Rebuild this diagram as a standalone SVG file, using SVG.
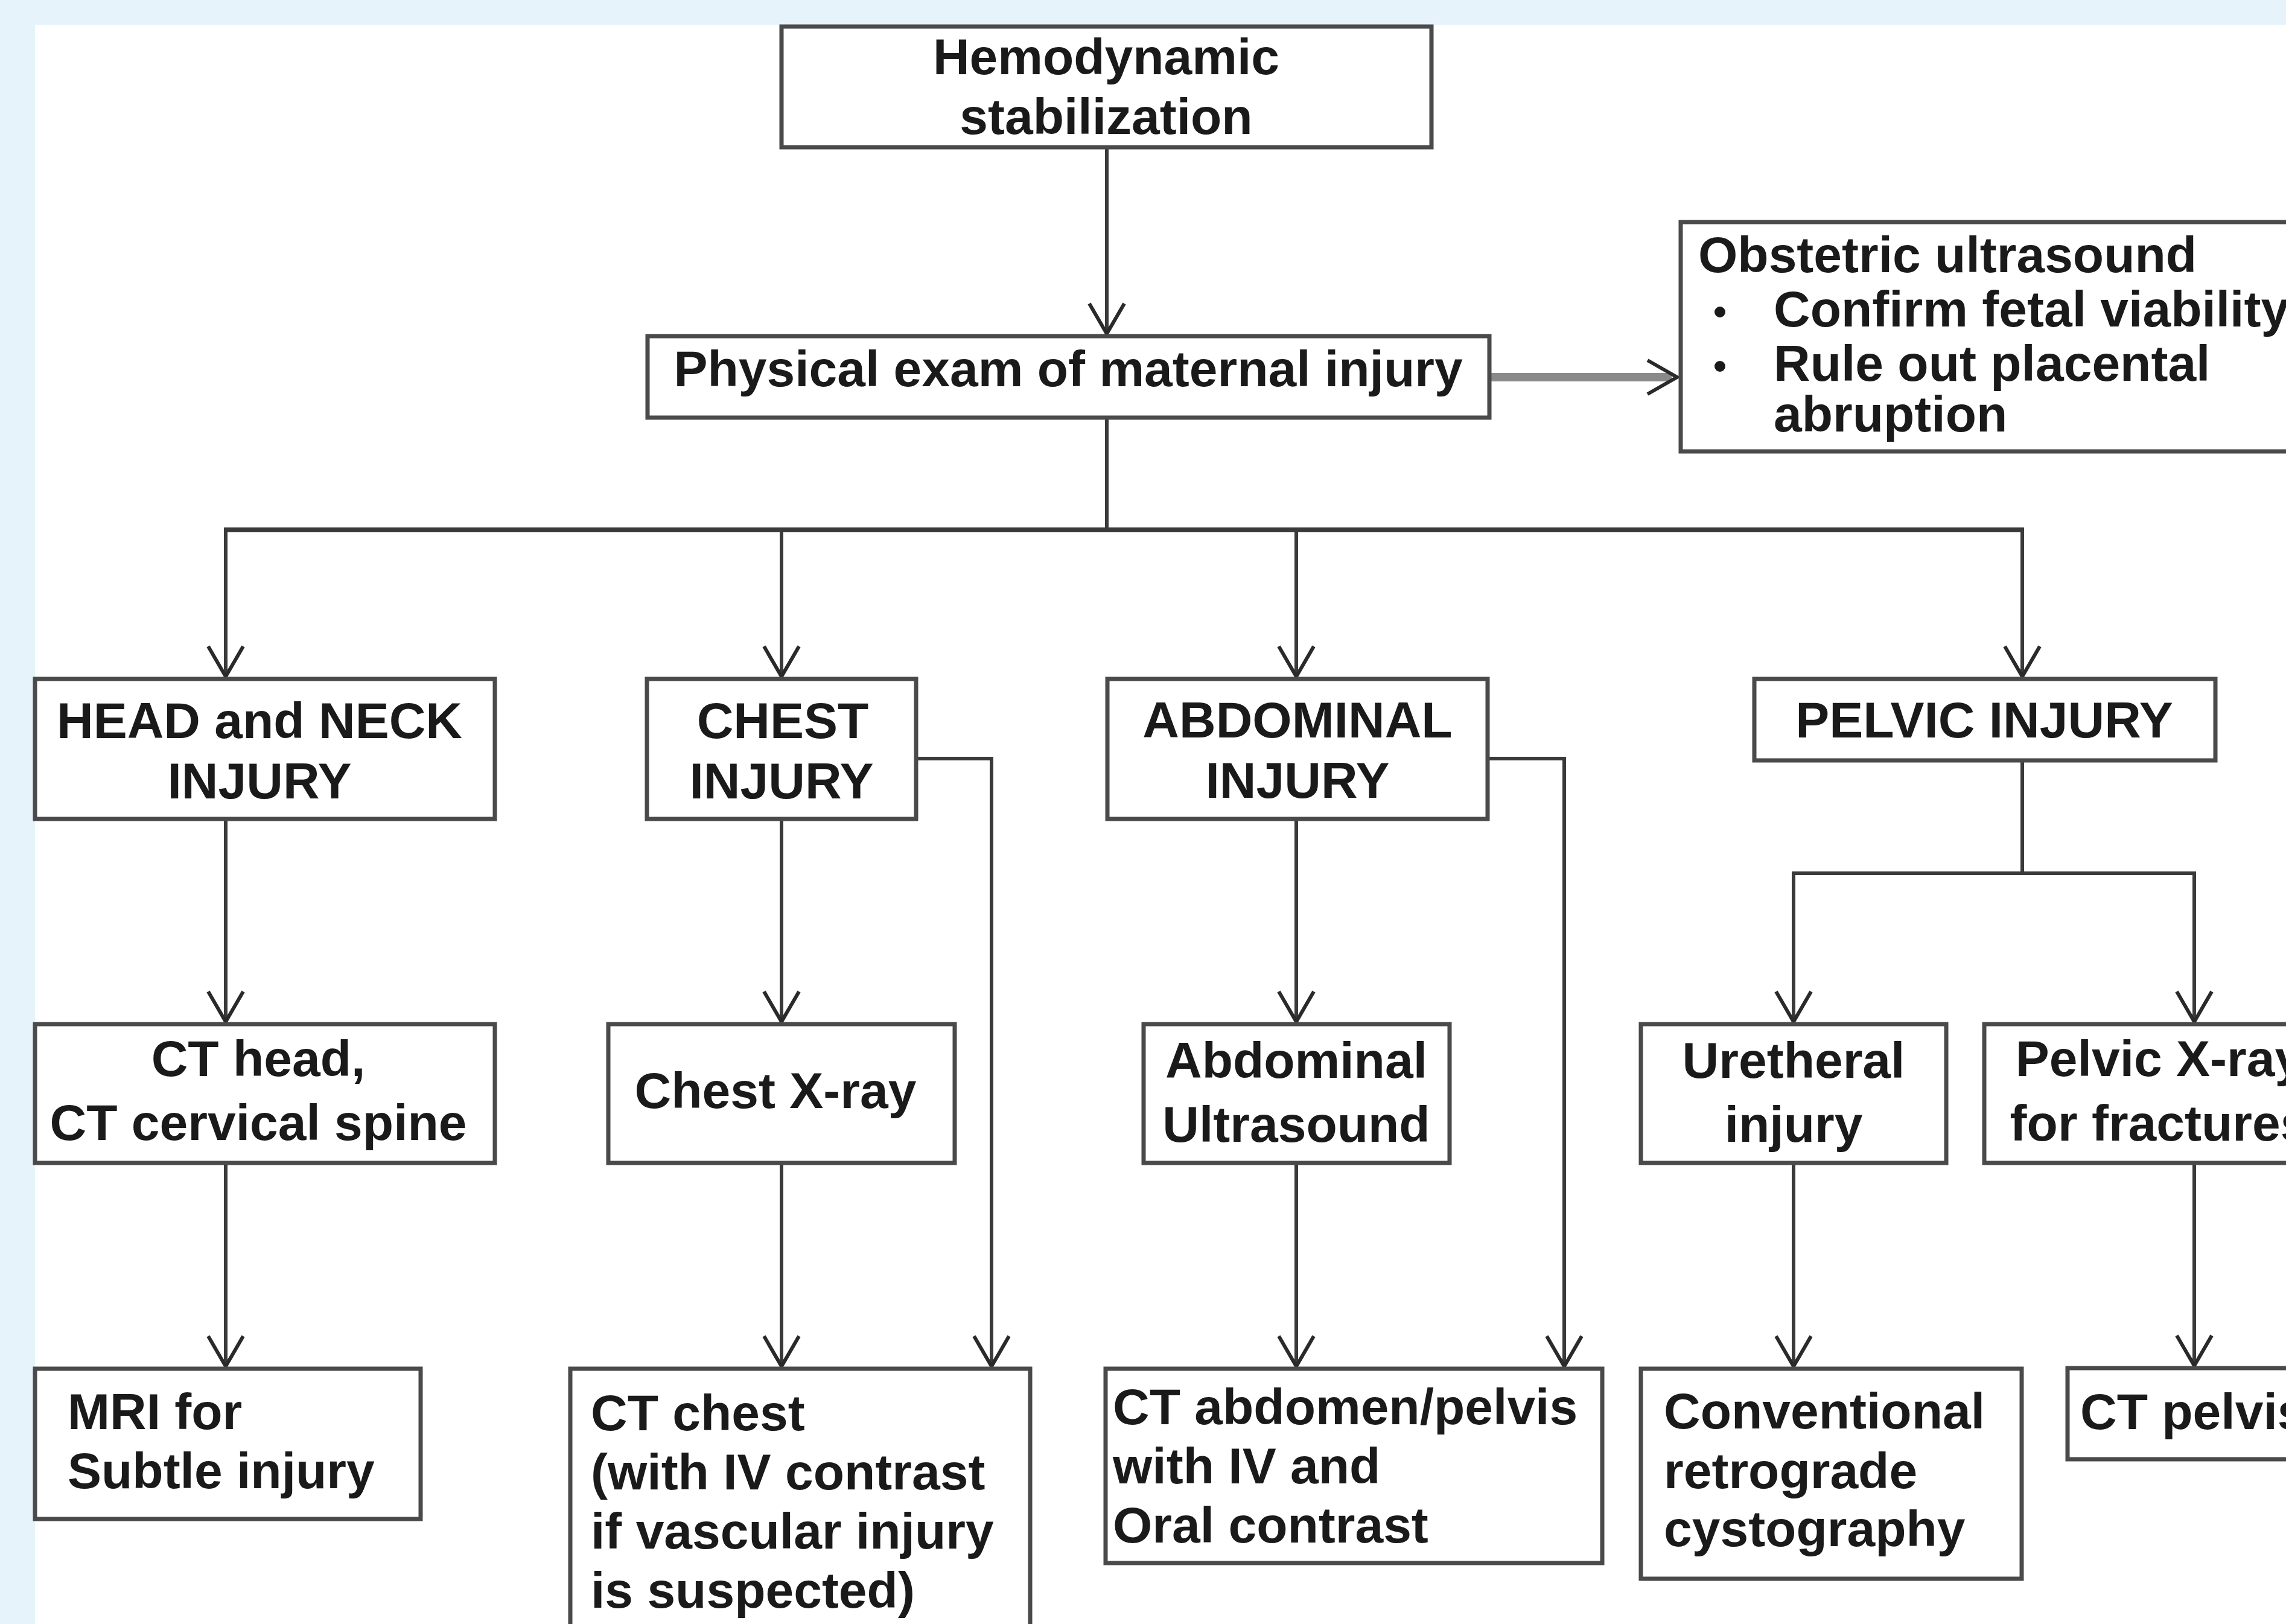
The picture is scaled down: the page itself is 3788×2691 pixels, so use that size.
<svg xmlns="http://www.w3.org/2000/svg" width="3788" height="2691" viewBox="0 0 3788 2691">
<style>
.box{fill:#ffffff;stroke:#4a4a4a;stroke-width:7}
.t{font-family:"Liberation Sans",Arial,sans-serif;font-weight:bold;font-size:84px;fill:#1a1a1a}
.c{text-anchor:middle}
.ln{fill:none;stroke:#3a3a3a;stroke-width:6}
</style>
<defs>
<marker id="ah" markerUnits="userSpaceOnUse" orient="auto" refX="0" refY="0" markerWidth="60" markerHeight="70" viewBox="-55 -35 60 70" overflow="visible">
<path d="M -50 -29 L 0 0 L -50 29" fill="none" stroke="#2a2a2a" stroke-width="6"/>
</marker>
</defs>
<rect x="0" y="0" width="3788" height="2691" fill="#e6f3fa"/>
<rect x="58" y="41" width="3730" height="2650" fill="#ffffff"/>

<g id="connectors">
<line class="ln" x1="1834" y1="244" x2="1834" y2="553" marker-end="url(#ah)"/>
<line x1="2468" y1="625" x2="2770" y2="625" stroke="#8a8a8a" stroke-width="14"/>
<path d="M 2730 597 L 2779 625 L 2730 653" fill="none" stroke="#2a2a2a" stroke-width="6"/>
<line class="ln" x1="1834" y1="692" x2="1834" y2="878"/>
<line class="ln" x1="371" y1="878" x2="3354" y2="878" style="stroke-width:8"/>
<line class="ln" x1="374" y1="878" x2="374" y2="1121" marker-end="url(#ah)"/>
<line class="ln" x1="1295" y1="878" x2="1295" y2="1121" marker-end="url(#ah)"/>
<line class="ln" x1="2148" y1="878" x2="2148" y2="1121" marker-end="url(#ah)"/>
<line class="ln" x1="3351" y1="878" x2="3351" y2="1121" marker-end="url(#ah)"/>
<line class="ln" x1="374" y1="1357" x2="374" y2="1693" marker-end="url(#ah)"/>
<line class="ln" x1="1295" y1="1357" x2="1295" y2="1693" marker-end="url(#ah)"/>
<polyline class="ln" points="1518,1257 1643,1257 1643,2264" marker-end="url(#ah)"/>
<line class="ln" x1="2148" y1="1357" x2="2148" y2="1693" marker-end="url(#ah)"/>
<polyline class="ln" points="2465,1257 2592,1257 2592,2264" marker-end="url(#ah)"/>
<line class="ln" x1="3351" y1="1260" x2="3351" y2="1447"/>
<line class="ln" x1="2969" y1="1447" x2="3639" y2="1447"/>
<line class="ln" x1="2972" y1="1447" x2="2972" y2="1693" marker-end="url(#ah)"/>
<line class="ln" x1="3636" y1="1447" x2="3636" y2="1693" marker-end="url(#ah)"/>
<line class="ln" x1="374" y1="1927" x2="374" y2="2264" marker-end="url(#ah)"/>
<line class="ln" x1="1295" y1="1927" x2="1295" y2="2264" marker-end="url(#ah)"/>
<line class="ln" x1="2148" y1="1927" x2="2148" y2="2264" marker-end="url(#ah)"/>
<line class="ln" x1="2972" y1="1927" x2="2972" y2="2264" marker-end="url(#ah)"/>
<line class="ln" x1="3636" y1="1927" x2="3636" y2="2263" marker-end="url(#ah)"/>
</g>

<g id="hemodynamic">
<rect class="box" x="1295" y="44" width="1077" height="200"/>
<text class="t c" x="1833" y="123">Hemodynamic</text>
<text class="t c" x="1833" y="222">stabilization</text>
</g>
<g id="physical-exam">
<rect class="box" x="1073" y="557" width="1395" height="135"/>
<text class="t c" x="1770" y="640">Physical exam of maternal injury</text>
</g>
<g id="obstetric">
<rect class="box" x="2785" y="368" width="1080" height="380"/>
<text class="t" x="2814" y="451">Obstetric ultrasound</text>
<circle cx="2850" cy="517" r="9" fill="#1a1a1a"/>
<text class="t" x="2939" y="541">Confirm fetal viability</text>
<circle cx="2850" cy="607" r="9" fill="#1a1a1a"/>
<text class="t" x="2939" y="631">Rule out placental</text>
<text class="t" x="2939" y="715">abruption</text>
</g>
<g id="head-neck">
<rect class="box" x="58" y="1125" width="762" height="232"/>
<text class="t c" x="430" y="1223">HEAD and NECK</text>
<text class="t c" x="430" y="1323">INJURY</text>
</g>
<g id="chest-injury">
<rect class="box" x="1072" y="1125" width="446" height="232"/>
<text class="t c" x="1297" y="1223">CHEST</text>
<text class="t c" x="1295" y="1323">INJURY</text>
</g>
<g id="abdominal-injury">
<rect class="box" x="1835" y="1125" width="630" height="232"/>
<text class="t c" x="2150" y="1222">ABDOMINAL</text>
<text class="t c" x="2150" y="1322">INJURY</text>
</g>
<g id="pelvic-injury">
<rect class="box" x="2907" y="1125" width="764" height="135"/>
<text class="t c" x="3288" y="1222">PELVIC INJURY</text>
</g>
<g id="ct-head">
<rect class="box" x="58" y="1697" width="762" height="230"/>
<text class="t c" x="428" y="1783">CT head,</text>
<text class="t c" x="428" y="1889">CT cervical spine</text>
</g>
<g id="chest-xray">
<rect class="box" x="1008" y="1697" width="574" height="230"/>
<text class="t c" x="1285" y="1836">Chest X-ray</text>
</g>
<g id="abdominal-us">
<rect class="box" x="1895" y="1697" width="507" height="230"/>
<text class="t c" x="2148" y="1786">Abdominal</text>
<text class="t c" x="2148" y="1892">Ultrasound</text>
</g>
<g id="uretheral">
<rect class="box" x="2719" y="1697" width="506" height="230"/>
<text class="t c" x="2972" y="1786">Uretheral</text>
<text class="t c" x="2972" y="1892">injury</text>
</g>
<g id="pelvic-xray">
<rect class="box" x="3288" y="1697" width="580" height="230"/>
<text class="t c" x="3578" y="1783">Pelvic X-ray</text>
<text class="t c" x="3578" y="1890">for fractures</text>
</g>
<g id="mri">
<rect class="box" x="58" y="2268" width="639" height="249"/>
<text class="t" x="112" y="2368">MRI for</text>
<text class="t" x="112" y="2466">Subtle injury</text>
</g>
<g id="ct-chest">
<rect class="box" x="945" y="2268" width="762" height="460"/>
<text class="t" x="979" y="2370">CT chest</text>
<text class="t" x="979" y="2468">(with IV contrast</text>
<text class="t" x="979" y="2566">if vascular injury</text>
<text class="t" x="979" y="2664">is suspected)</text>
</g>
<g id="ct-abdomen">
<rect class="box" x="1832" y="2268" width="823" height="322"/>
<text class="t" x="1844" y="2360">CT abdomen/pelvis</text>
<text class="t" x="1844" y="2458">with IV and</text>
<text class="t" x="1844" y="2556">Oral contrast</text>
</g>
<g id="conventional">
<rect class="box" x="2719" y="2268" width="631" height="348"/>
<text class="t" x="2757" y="2367">Conventional</text>
<text class="t" x="2757" y="2466">retrograde</text>
<text class="t" x="2757" y="2562">cystography</text>
</g>
<g id="ct-pelvis">
<rect class="box" x="3426" y="2267" width="440" height="151"/>
<text class="t" x="3447" y="2368">CT pelvis</text>
</g>
</svg>
